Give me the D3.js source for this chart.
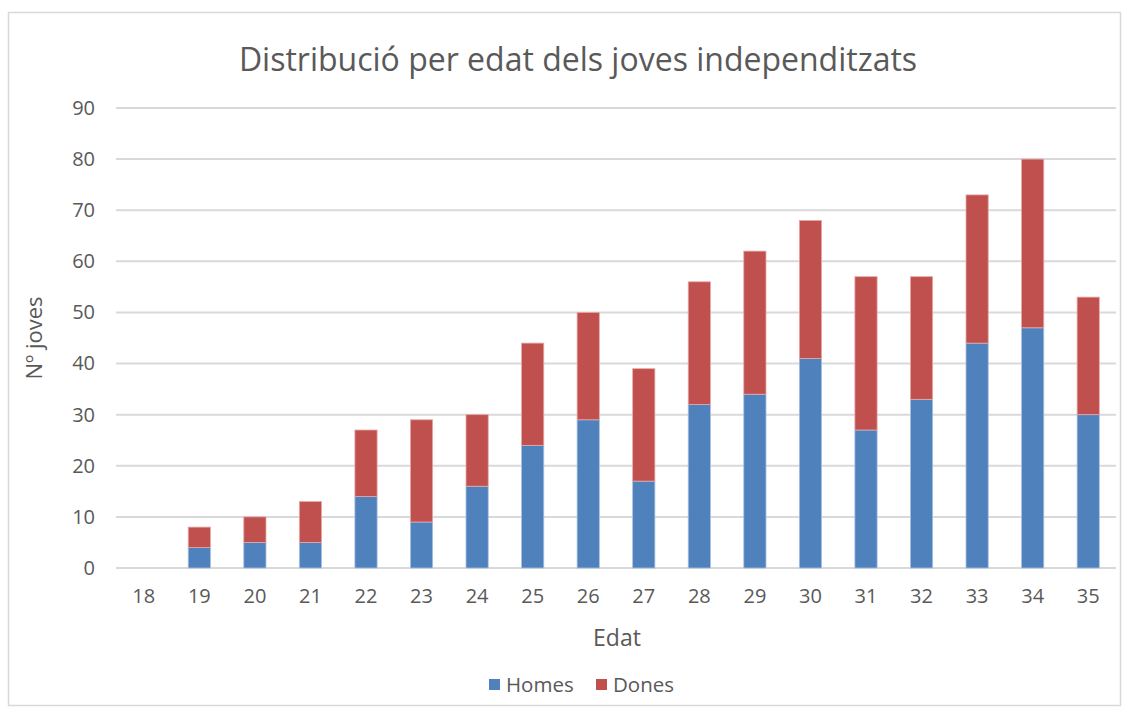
<!DOCTYPE html>
<html><head><meta charset="utf-8">
<script src="https://cdn.jsdelivr.net/npm/d3@7"></script>
<style>body{margin:0;background:#fff;} text{font-family:"Open Sans", sans-serif;}</style>
</head><body><svg id="c" width="1131" height="715"></svg>
<script>
const ages = ["18","19","20","21","22","23","24","25","26","27","28","29","30","31","32","33","34","35"];
const homes = [0,4,5,5,14,9,16,24,29,17,32,34,41,27,33,44,47,30];
const dones = [0,4,5,8,13,20,14,20,21,22,24,28,27,30,24,29,33,23];
const yTicks = [0,10,20,30,40,50,60,70,80,90];
const seriesNames = ["Homes","Dones"];
const colors = ["#4F81BD","#C0504D"];

const svg = d3.select("#c");
svg.append("rect").attr("x",8.5).attr("y",12.5).attr("width",1112).attr("height",693)
  .attr("fill","#fff").attr("stroke","#d9d9d9").attr("stroke-width",1.5);

const L=116,R=1116,T=108,B=568;
const x = d3.scaleBand().domain(ages).range([L,R]).paddingInner(0.6).paddingOuter(0.3);
const y = d3.scaleLinear().domain([0,90]).range([B,T]);

const g = svg.append("g");
g.selectAll("line.grid").data(yTicks).join("line").attr("class","grid")
  .attr("x1",L).attr("x2",R).attr("y1",d=>y(d)).attr("y2",d=>y(d))
  .attr("stroke","#d9d9d9").attr("stroke-width",2);

const data = ages.map((a,i)=>({age:a,Homes:homes[i],Dones:dones[i]}));
const stack = d3.stack().keys(seriesNames)(data);
stack.forEach((s,si)=>{
  g.selectAll("rect.s"+si).data(s).join("rect")
   .attr("x",d=>x(d.data.age)).attr("width",x.bandwidth())
   .attr("y",d=>y(d[1])).attr("height",d=>Math.max(0,y(d[0])-y(d[1])))
   .attr("fill",colors[si]).attr("stroke",d=>d[1]-d[0]>0?(si?"#e8a9a7":"#a9c1e0"):"none").attr("stroke-width",0.8);
});

const yAxis = d3.axisLeft(y).tickValues(yTicks).tickSize(0).tickPadding(21);
const ya = svg.append("g").attr("transform",`translate(${L},0)`).call(yAxis);
ya.select(".domain").remove();
ya.selectAll("text").attr("font-size",20).attr("fill","#595959").style("font-family","'Open Sans', sans-serif");

const xAxis = d3.axisBottom(x).tickSize(0).tickPadding(21);
const xa = svg.append("g").attr("transform",`translate(0,${B})`).call(xAxis);
xa.select(".domain").remove();
xa.selectAll("text").attr("font-size",20).attr("fill","#595959").style("font-family","'Open Sans', sans-serif");

svg.append("text").attr("x",578).attr("y",71).attr("text-anchor","middle")
  .attr("font-size",32).attr("fill","#595959").text("Distribució per edat dels joves independitzats");
svg.append("text").attr("x",617).attr("y",646).attr("text-anchor","middle")
  .attr("font-size",23).attr("fill","#595959").text("Edat");
svg.append("text").attr("transform","translate(42,338) rotate(-90)").attr("text-anchor","middle")
  .attr("font-size",22).attr("fill","#595959").text("Nº joves");

const leg = svg.append("g");
const legX = [489,596];
seriesNames.forEach((n,i)=>{
  leg.append("rect").attr("x",legX[i]).attr("y",679).attr("width",11).attr("height",11).attr("fill",colors[i]);
  leg.append("text").attr("x",legX[i]+17).attr("y",692).attr("font-size",20.5).attr("fill","#595959").text(n);
});
</script></body></html>
